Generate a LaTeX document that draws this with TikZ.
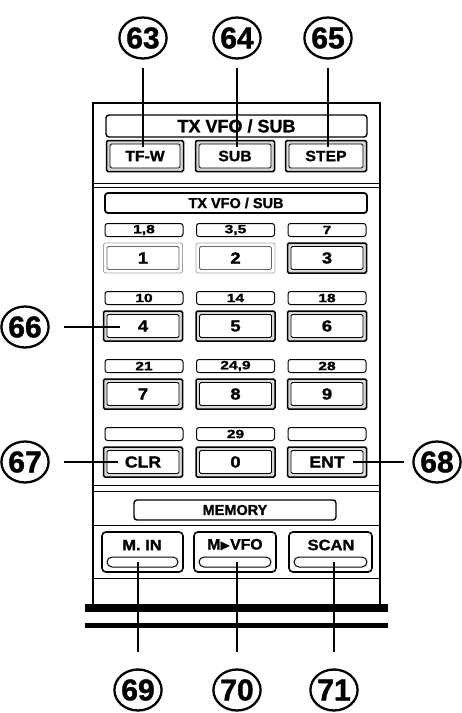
\documentclass[tikz,border=0pt]{standalone}
\usepackage{fontspec}
\setmainfont{Liberation Sans}[BoldFeatures={FakeBold=1.3}]
\newfontfamily\symfont{DejaVu Sans}
\usetikzlibrary{shapes.geometric,calc}
\newcommand{\xs}[2]{\scalebox{#1}[1]{#2}}
\begin{document}
\begin{tikzpicture}[x=1pt,y=-1pt,
  callout/.style={ellipse, draw, line width=2.3pt, minimum width=44pt, minimum height=41pt, inner sep=0pt, font=\fontsize{30}{30}\selectfont\bfseries},
  leader/.style={line width=1.3pt},
  titlebox/.style={draw, line width=1.4pt, rounded corners=3pt, inner sep=0pt, font=\bfseries},
  band/.style={draw, line width=1pt, rounded corners=2.5pt, minimum width=78pt, minimum height=13pt, inner sep=0pt, font=\fontsize{12}{12}\selectfont\bfseries},
  key/.style={draw, line width=1.5pt, rounded corners=1.5pt, fill=gray!30, minimum width=79pt, minimum height=30pt, inner sep=0pt, font=\fontsize{16}{16}\selectfont\bfseries,
    path picture={\draw[line width=0.9pt, fill=white] ($(path picture bounding box.south west)+(3.5pt,3.5pt)$) rectangle ($(path picture bounding box.north east)+(-3.5pt,-3.5pt)$);}},
  keylight/.style={draw=gray!70, line width=0.8pt, rounded corners=1.5pt, fill=white, minimum width=79pt, minimum height=30pt, inner sep=0pt, font=\fontsize{16}{16}\selectfont\bfseries,
    path picture={\draw[line width=0.8pt, draw=gray!80!black] ($(path picture bounding box.south west)+(3.5pt,3.5pt)$) rectangle ($(path picture bounding box.north east)+(-3.5pt,-3.5pt)$);}},
  mbtn/.style={draw, line width=1.6pt, rounded corners=4pt, minimum width=81pt, minimum height=40pt, inner sep=0pt},
  mtext/.style={inner sep=0pt, font=\fontsize{15}{15}\selectfont\bfseries},
  slot/.style={draw, line width=1pt, rounded corners=5pt, minimum width=71pt, minimum height=10pt, inner sep=0pt},
  sep/.style={line width=0.8pt},
  bar/.style={fill=black}
]
\useasboundingbox (0,0) rectangle (462,713);

% panel outline
\draw[line width=1.8pt] (93,604) -- (93,103) -- (380,103) -- (380,604);

% top section
\node[titlebox, minimum width=261pt, minimum height=22pt, font=\fontsize{18}{18}\selectfont\bfseries] (t1) at (236.5,126) {TX VFO / SUB};
\node[key, minimum width=77pt, minimum height=31pt, font=\fontsize{15}{15}\selectfont\bfseries] (tfw) at (145,156) {\xs{1.05}{TF-W}};
\node[key, minimum height=31pt, font=\fontsize{15}{15}\selectfont\bfseries] (sub) at (235,156) {\xs{1.05}{SUB}};
\node[key, minimum width=81pt, minimum height=31pt, font=\fontsize{15}{15}\selectfont\bfseries] (step) at (326,156) {\xs{1.05}{STEP}};

\draw[sep] (93,183) -- (380,183);
\draw[sep] (93,187) -- (380,187);

% keypad
\node[titlebox, line width=1.8pt, minimum width=262pt, minimum height=20pt, font=\fontsize{14.5}{14.5}\selectfont\bfseries] (t2) at (236,203) {TX VFO / SUB};

\node[band] (b1) at (144,230) {\xs{1.3}{1,8}};
\node[band] (b2) at (235.5,230) {\xs{1.3}{3,5}};
\node[band] (b3) at (327,230) {\xs{1.3}{7}};
\node[keylight] (k1) at (143,258) {\xs{1.15}{1}};
\node[keylight] (k2) at (235.5,258) {\xs{1.15}{2}};
\node[key] (k3) at (327,258) {\xs{1.15}{3}};

\node[band] (b4) at (144,298) {\xs{1.3}{10}};
\node[band] (b5) at (235.5,298) {\xs{1.3}{14}};
\node[band] (b6) at (327,298) {\xs{1.3}{18}};
\node[key] (k4) at (143,326) {\xs{1.15}{4}};
\node[key] (k5) at (235.5,326) {\xs{1.15}{5}};
\node[key] (k6) at (327,326) {\xs{1.15}{6}};

\node[band] (b7) at (144,366) {\xs{1.3}{21}};
\node[band] (b8) at (235.5,366) {\xs{1.3}{24,9}};
\node[band] (b9) at (327,366) {\xs{1.3}{28}};
\node[key] (k7) at (143,394) {\xs{1.15}{7}};
\node[key] (k8) at (235.5,394) {\xs{1.15}{8}};
\node[key] (k9) at (327,394) {\xs{1.15}{9}};

\node[band] (b10) at (144,434) {};
\node[band] (b11) at (235.5,434) {\xs{1.3}{29}};
\node[band] (b12) at (327,434) {};
\node[key] (kclr) at (143,462) {\xs{1.1}{CLR}};
\node[key] (k0) at (235.5,462) {\xs{1.15}{0}};
\node[key] (kent) at (327,462) {\xs{1.1}{ENT}};

\draw[sep] (93,485) -- (380,485);
\draw[sep] (93,491) -- (380,491);

% memory section
\node[titlebox, minimum width=202pt, minimum height=20pt, font=\fontsize{14.5}{14.5}\selectfont\bfseries] (mem) at (235,510) {MEMORY};
\draw[sep] (93,525) -- (380,525);

\node[mbtn] (bmin) at (142.5,552) {};
\node[mbtn, minimum width=82pt] (bmvfo) at (235,552) {};
\node[mbtn, minimum width=83pt] (bscan) at (330.5,552) {};
\node[mtext] (tmin) at (142,545) {\xs{1.1}{M. IN}};
\node[mtext] (tmvfo) at (235,545) {\xs{1.05}{M{\symfont\scalebox{0.8}{▶}}VFO}};
\node[mtext] (tscan) at (331,545) {\xs{1.1}{SCAN}};
\node[slot] (smin) at (142.5,562) {};
\node[slot, minimum width=72pt] (smvfo) at (235,562) {};
\node[slot, minimum width=73pt] (sscan) at (330.5,562) {};

\draw[sep] (93,578) -- (380,578);

% bars
\fill[bar] (85,604) rectangle (388,612);
\fill[bar] (85,623) rectangle (388,628);

% callouts
\node[callout] (c63) at (143,38) {63};
\node[callout] (c64) at (237,38) {64};
\node[callout] (c65) at (328,38) {65};
\node[callout] (c66) at (25,327) {66};
\node[callout] (c67) at (25,462) {67};
\node[callout] (c68) at (437,462) {68};
\node[callout] (c69) at (138,690) {69};
\node[callout] (c70) at (237,690) {70};
\node[callout] (c71) at (334,690) {71};

\coordinate (e63) at (143,147);
\coordinate (e64) at (237,147);
\coordinate (e65) at (328,147);
\coordinate (e66) at (120,327);
\coordinate (e67) at (118,462);
\coordinate (e68) at (353,462);
\coordinate (e69) at (138,562);
\coordinate (e70) at (237,562);
\coordinate (e71) at (334,562);

\draw[leader, shorten <=8pt] (c63) -- (e63);
\draw[leader, shorten <=8pt] (c64) -- (e64);
\draw[leader, shorten <=8pt] (c65) -- (e65);
\draw[leader, shorten <=14pt] (c66) -- (e66);
\draw[leader, shorten <=14pt] (c67) -- (e67);
\draw[leader, shorten <=8pt] (c68) -- (e68);
\draw[leader, shorten <=16pt] (c69) -- (e69);
\draw[leader, shorten <=16pt] (c70) -- (e70);
\draw[leader, shorten <=16pt] (c71) -- (e71);
\end{tikzpicture}
\end{document}
